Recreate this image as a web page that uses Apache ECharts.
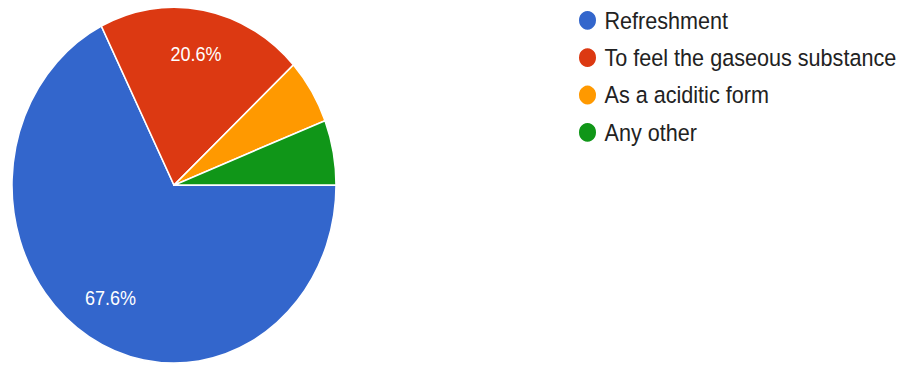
<!DOCTYPE html>
<html>
<head>
<meta charset="utf-8">
<script src="https://cdn.jsdelivr.net/npm/echarts@6/dist/echarts.min.js"></script>
<style>
  html, body { margin: 0; padding: 0; background: #fff; width: 907px; height: 367px; }
  /* the reference pie is a little taller than wide, so the whole chart is stretched vertically */
  #main { width: 907px; height: 334px; transform: scaleY(1.0988); transform-origin: 0 0; }
</style>
</head>
<body>
<div id="main"></div>
<script>
var categories = ['Refreshment', 'To feel the gaseous substance', 'As a aciditic form', 'Any other'];
var shares = [67.6, 20.6, 5.9, 5.9];
var colors = ['#3366cc', '#dc3912', '#ff9900', '#109618'];

var pieData = categories.map(function (name, i) {
  return { name: name, value: shares[i] };
});

var myChart = echarts.init(document.getElementById('main'), null, { renderer: 'svg' });
var option = {
  animation: false,
  color: colors,
  legend: {
    orient: 'vertical',
    left: 572,
    top: 2.5,
    data: categories,
    icon: 'circle',
    itemWidth: 24,
    itemHeight: 19,
    itemGap: 12,
    selectedMode: false,
    textStyle: {
      fontFamily: 'Liberation Sans, Arial, sans-serif',
      fontSize: 21.6,
      lineHeight: 22,
      color: '#222'
    }
  },
  series: [
    {
      type: 'pie',
      center: [174, 168.5],
      radius: [0, 162],
      startAngle: 0,
      clockwise: true,
      silent: true,
      itemStyle: { borderColor: '#fff', borderWidth: 1.5 },
      label: { show: false },
      labelLine: { show: false },
      data: pieData
    },
    {
      /* transparent ring only to place the percent labels further out */
      type: 'pie',
      center: [174, 168.5],
      radius: [74, 162],
      startAngle: 0,
      clockwise: true,
      silent: true,
      itemStyle: { color: 'rgba(0,0,0,0)' },
      label: {
        show: true,
        position: 'inside',
        color: '#fff',
        fontFamily: 'Liberation Sans, Arial, sans-serif',
        fontSize: 18,
        formatter: function (p) {
          return p.value >= 10 ? p.value + '%' : '';
        }
      },
      labelLine: { show: false },
      data: pieData
    }
  ]
};
myChart.setOption(option);
</script>
</body>
</html>
